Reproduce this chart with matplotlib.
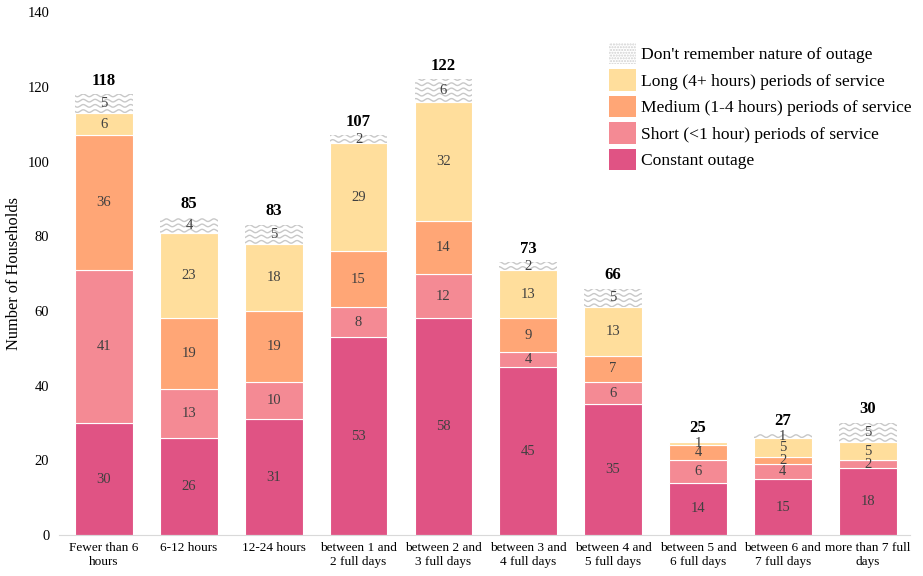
import numpy as np
import matplotlib
matplotlib.use("Agg")
import matplotlib.pyplot as plt
from matplotlib.patches import Patch

categories = ["Fewer than 6\nhours", "6-12 hours", "12-24 hours",
              "between 1 and\n2 full days", "between 2 and\n3 full days",
              "between 3 and\n4 full days", "between 4 and\n5 full days",
              "between 5 and\n6 full days", "between 6 and\n7 full days",
              "more than 7 full\ndays"]

constant = [30, 26, 31, 53, 58, 45, 35, 14, 15, 18]
short = [41, 13, 10, 8, 12, 4, 6, 6, 4, 2]
medium = [36, 19, 19, 15, 14, 9, 7, 4, 2, 0]
long_ = [6, 23, 18, 29, 32, 13, 13, 1, 5, 5]
dont_remember = [5, 4, 5, 2, 6, 2, 5, 0, 1, 5]

series_names = ["Constant outage", "Short (<1 hour) periods of service",
                "Medium (1-4 hours) periods of service",
                "Long (4+ hours) periods of service",
                "Don't remember nature of outage"]
colors = ["#E05384", "#F48A94", "#FFA676", "#FFDE9C", "white"]

plt.rcParams['font.family'] = ['Liberation Serif', 'DejaVu Serif']
plt.rcParams['hatch.color'] = '#d0d0d0'

fig = plt.figure(figsize=(9.23, 5.76), dpi=100)
ax = fig.add_axes([0.064, 0.071, 0.922, 0.908])

x = np.arange(len(categories))
width = 0.68
series = [constant, short, medium, long_, dont_remember]
bottom = np.zeros(len(categories))

for vals, col, name in zip(series, colors, series_names):
    vals = np.array(vals, dtype=float)
    bars = ax.bar(x, vals, width, bottom=bottom, color=col,
                  edgecolor='white', linewidth=0.8, zorder=2)
    if name.startswith("Don't"):
        # wavy grey pattern clipped to each bar
        for b, v in zip(bars, vals):
            if v <= 0:
                continue
            xs = np.linspace(b.get_x() - 0.1, b.get_x() + b.get_width() + 0.1, 200)
            y0 = b.get_y()
            for yy in np.arange(y0 + 0.5, y0 + v + 1.0, 1.4):
                line, = ax.plot(xs, yy + 0.35 * np.sin(xs * 2 * np.pi / 0.14),
                                color='#c8c8c8', lw=1.0, zorder=3)
                line.set_clip_path(b)
    for xi, b, v in zip(x, bottom, vals):
        if v > 0:
            ax.text(xi, b + v / 2, f"{int(v)}", ha='center', va='center',
                    fontsize=10.5, color='#404040', zorder=4)
    bottom += vals

for xi, t in zip(x, bottom):
    ax.text(xi, t + 1.5, f"{int(t)}", ha='center', va='bottom',
            fontsize=12, fontweight='bold', color='black')

ax.set_xlim(-0.53, 9.5)
ax.set_ylim(0, 140)
ax.set_yticks(range(0, 141, 20))
ax.set_xticks(x)
ax.set_xticklabels(categories, fontsize=9.5)
ax.tick_params(axis='y', labelsize=10.5, length=0, pad=7)
ax.tick_params(axis='x', length=0, pad=5)
ax.set_ylabel("Number of Households", fontsize=11.8, labelpad=4)
for s in ['top', 'right', 'left']:
    ax.spines[s].set_visible(False)
ax.spines['bottom'].set_color('#d9d9d9')

handles = [Patch(facecolor='white', edgecolor='#d0d0d0', hatch='......', linewidth=0)]
handles += [Patch(facecolor=c) for c in colors[3::-1]]
labels = [series_names[4]] + series_names[3::-1]
leg = ax.legend(handles, labels, loc='upper right', bbox_to_anchor=(1.01, 0.955),
                frameon=False, fontsize=12.6, handlelength=1.5, handleheight=1.5,
                labelspacing=0.3, handletextpad=0.3, borderaxespad=0)

fig.savefig("out.png", dpi=100)
